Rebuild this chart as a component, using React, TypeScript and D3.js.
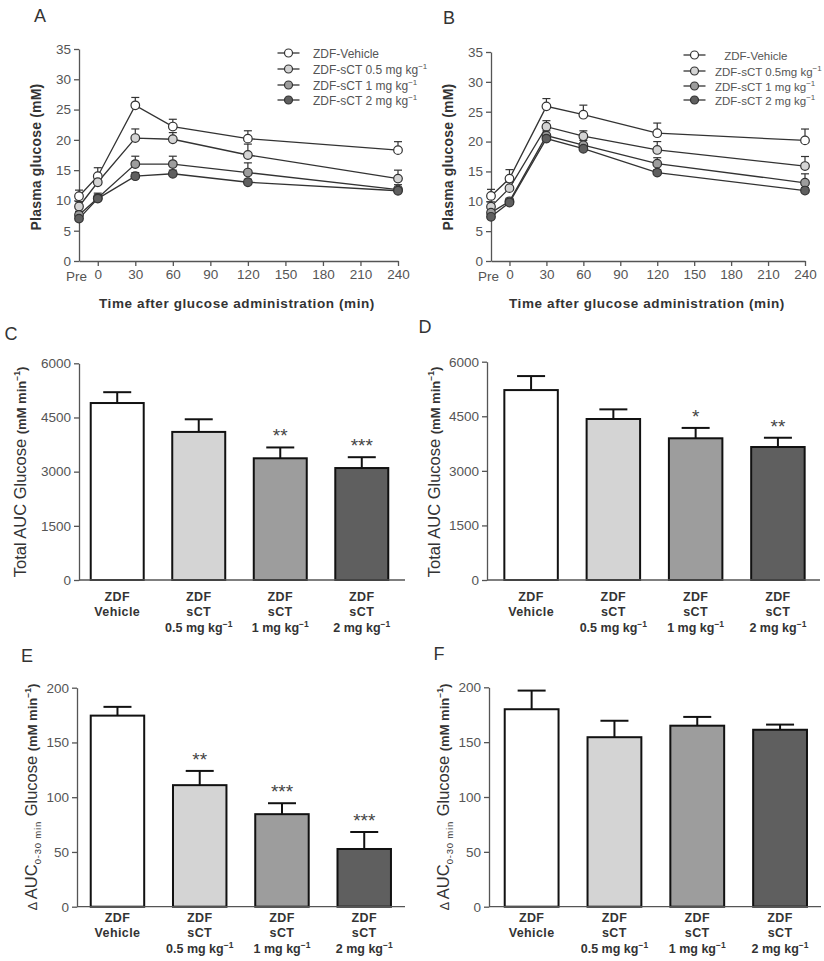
import { useEffect, useRef } from "react"
import * as d3 from "d3"

// time points in minutes, -15 stands for "Pre"
const timePoints = [-15, 0, 30, 60, 120, 240]
const timeTicks = [-15, 0, 30, 60, 90, 120, 150, 180, 210, 240]
const legendA = ["ZDF-Vehicle", "ZDF-sCT 0.5 mg kg", "ZDF-sCT 1 mg kg", "ZDF-sCT 2 mg kg"]
const legendB = [" ZDF-Vehicle", "ZDF-sCT 0.5mg kg", "ZDF-sCT 1 mg kg", "ZDF-sCT 2 mg kg"]
const groupFills = ["#ffffff", "#d4d4d4", "#9d9d9d", "#5f5f5f"]

const glucoseA = [
  [10.7, 14.0, 25.7, 22.2, 20.2, 18.3],
  [9.0, 13.0, 20.3, 20.1, 17.5, 13.6],
  [7.6, 10.4, 16.0, 16.0, 14.6, 11.8],
  [7.0, 10.3, 14.0, 14.4, 13.0, 11.6],
]
const semA = [
  [1.0, 1.4, 1.3, 1.2, 1.3, 1.4],
  [0.8, 1.0, 1.5, 1.1, 1.8, 1.4],
  [0.6, 0.8, 1.3, 1.3, 1.6, 0.8],
  [0.5, 0.6, 0.6, 0.6, 0.5, 0.5],
]
const glucoseB = [
  [10.9, 13.8, 25.9, 24.5, 21.4, 20.2],
  [9.1, 12.2, 22.5, 20.9, 18.6, 15.9],
  [8.1, 10.0, 21.0, 19.4, 16.3, 13.1],
  [7.4, 9.8, 20.5, 18.8, 14.8, 11.8],
]
const semB = [
  [1.1, 1.5, 1.3, 1.6, 1.7, 1.9],
  [0.8, 1.0, 1.0, 0.9, 1.4, 1.6],
  [0.6, 0.5, 0.8, 0.8, 1.0, 1.5],
  [0.5, 0.4, 0.5, 0.5, 0.5, 0.5],
]

const groups = ["Vehicle", "0.5 mg kg", "1 mg kg", "2 mg kg"]
const totalAucC = [4900, 4100, 3370, 3100]
const totalAucCErr = [300, 350, 300, 300]
const starsC = ["", "", "**", "***"]
const totalAucD = [5220, 4425, 3895, 3655]
const totalAucDErr = [385, 265, 285, 255]
const starsD = ["", "", "*", "**"]
const earlyAucE = [174.5, 111, 84.5, 52.7]
const earlyAucEErr = [8, 13, 10, 15.5]
const starsE = ["", "**", "***", "***"]
const earlyAucF = [180, 154.5, 165, 161.3]
const earlyAucFErr = [17, 15, 8, 4.7]
const starsF = ["", "", "", ""]

const FONT = "'Liberation Sans', Arial, sans-serif"
const AXIS = "#555"
const INK = "#333"

type Part = { t: string; size: number; weight?: string; dy?: number; ls?: number }

function rich(sel: d3.Selection<SVGTextElement, unknown, null, undefined>, parts: Part[]) {
  parts.forEach((p) => {
    const ts = sel.append("tspan").attr("font-size", p.size).text(p.t)
    if (p.weight) ts.attr("font-weight", p.weight)
    if (p.dy) ts.attr("dy", p.dy)
    if (p.ls) ts.attr("letter-spacing", p.ls)
  })
}

function styleAxis(g: d3.Selection<SVGGElement, unknown, null, undefined>, size: number) {
  g.selectAll("path").attr("stroke", AXIS).attr("stroke-width", 1.3)
  g.selectAll("line").attr("stroke", AXIS).attr("stroke-width", 1.3)
  g.selectAll("text").attr("fill", AXIS).attr("font-size", size).attr("font-family", FONT)
}

interface LineCfg {
  label: string
  labelPos: [number, number]
  xRange: [number, number]
  yRange: [number, number]
  values: number[][]
  errs: number[][]
  legend: string[]
  legendX: number
  legendTextX: number[]
  legendY: number[]
  legendSize: number
  yTitle: [number, number]
  xTitle: [number, number]
}

function drawLinePanel(svg: d3.Selection<SVGSVGElement, unknown, null, undefined>, c: LineCfg) {
  const g = svg.append("g")
  const x = d3.scaleLinear().domain([-15, 240]).range(c.xRange)
  const y = d3.scaleLinear().domain([0, 35]).range(c.yRange)

  const xAxis = g
    .append("g")
    .attr("transform", `translate(0,${c.yRange[0]})`)
    .call(
      d3
        .axisBottom(x)
        .tickValues(timeTicks)
        .tickSize(5)
        .tickSizeOuter(0)
        .tickFormat((d) => (d === -15 ? "Pre" : String(d))),
    )
  styleAxis(xAxis, 13.5)
  xAxis
    .selectAll<SVGGElement, number>(".tick")
    .filter((d) => d === -15)
    .each(function () {
      d3.select(this).select("line").remove()
      d3.select(this).select("text").attr("y", 10).attr("x", -3)
    })

  const yAxis = g
    .append("g")
    .attr("transform", `translate(${c.xRange[0]},0)`)
    .call(d3.axisLeft(y).tickValues(d3.range(0, 36, 5)).tickSize(5).tickSizeOuter(0))
  styleAxis(yAxis, 13.5)

  const line = d3
    .line<number>()
    .x((_, i) => x(timePoints[i]))
    .y((d) => y(d))

  c.values.forEach((vals, s) => {
    const sg = g.append("g")
    sg.append("path").attr("d", line(vals)).attr("fill", "none").attr("stroke", INK).attr("stroke-width", 1.3)
    vals.forEach((v, i) => {
      const px = x(timePoints[i])
      const top = y(v + c.errs[s][i])
      sg.append("line").attr("x1", px).attr("x2", px).attr("y1", y(v)).attr("y2", top).attr("stroke", INK).attr("stroke-width", 1.2)
      sg.append("line").attr("x1", px - 4).attr("x2", px + 4).attr("y1", top).attr("y2", top).attr("stroke", INK).attr("stroke-width", 1.2)
    })
  })
  c.values.forEach((vals, s) => {
    g.selectAll(null)
      .data(vals)
      .enter()
      .append("circle")
      .attr("cx", (_, i) => x(timePoints[i]))
      .attr("cy", (d) => y(d))
      .attr("r", 4.3)
      .attr("fill", groupFills[s])
      .attr("stroke", INK)
      .attr("stroke-width", 1.2)
  })

  // legend
  c.legend.forEach((name, s) => {
    const ly = c.legendY[s]
    g.append("line").attr("x1", c.legendX - 11).attr("x2", c.legendX + 11).attr("y1", ly).attr("y2", ly).attr("stroke", INK).attr("stroke-width", 1.3)
    g.append("circle").attr("cx", c.legendX).attr("cy", ly).attr("r", 4).attr("fill", groupFills[s]).attr("stroke", INK).attr("stroke-width", 1.2)
    const t = g
      .append("text")
      .attr("x", c.legendTextX[s])
      .attr("y", ly + 4.5)
      .attr("fill", "#555")
      .attr("font-family", FONT)
      .attr("xml:space", "preserve")
    const parts: Part[] = [{ t: name, size: c.legendSize }]
    if (s > 0) parts.push({ t: "−1", size: 8, dy: -5 })
    rich(t, parts)
  })

  g.append("text")
    .attr("transform", `translate(${c.yTitle[0]},${c.yTitle[1]}) rotate(-90)`)
    .attr("text-anchor", "middle")
    .attr("font-family", FONT)
    .attr("font-weight", "bold")
    .attr("font-size", 14)
    .attr("letter-spacing", 0.2)
    .attr("fill", INK)
    .text("Plasma glucose (mM)")

  g.append("text")
    .attr("x", c.xTitle[0])
    .attr("y", c.xTitle[1])
    .attr("text-anchor", "middle")
    .attr("font-family", FONT)
    .attr("font-weight", "bold")
    .attr("font-size", 13.5)
    .attr("letter-spacing", 0.6)
    .attr("fill", INK)
    .text("Time after glucose administration (min)")

  g.append("text")
    .attr("x", c.labelPos[0])
    .attr("y", c.labelPos[1])
    .attr("text-anchor", "middle")
    .attr("font-family", FONT)
    .attr("font-size", 18)
    .attr("fill", INK)
    .text(c.label)
}

interface BarCfg {
  label: string
  labelPos: [number, number]
  band: [number, number]
  axisX: [number, number]
  yRange: [number, number]
  yMax: number
  yStep: number
  values: number[]
  errs: number[]
  stars: string[]
  yTitle: [number, number]
  early: boolean
  catY: number
}

function drawBarPanel(svg: d3.Selection<SVGSVGElement, unknown, null, undefined>, c: BarCfg) {
  const g = svg.append("g")
  const x = d3.scaleBand<string>().domain(groups).range(c.band).paddingInner(0.35).paddingOuter(0.15)
  const y = d3.scaleLinear().domain([0, c.yMax]).range(c.yRange)
  const bw = x.bandwidth()

  // bars
  g.selectAll(null)
    .data(c.values)
    .enter()
    .append("rect")
    .attr("x", (_, i) => x(groups[i])!)
    .attr("y", (d) => y(d))
    .attr("width", bw)
    .attr("height", (d) => y(0) - y(d))
    .attr("fill", (_, i) => groupFills[i])
    .attr("stroke", "#111")
    .attr("stroke-width", 2)

  // error bars (upper only)
  c.values.forEach((v, i) => {
    const cx = x(groups[i])! + bw / 2
    const top = y(v + c.errs[i])
    g.append("line").attr("x1", cx).attr("x2", cx).attr("y1", y(v)).attr("y2", top).attr("stroke", "#111").attr("stroke-width", 2)
    g.append("line").attr("x1", cx - 14).attr("x2", cx + 14).attr("y1", top).attr("y2", top).attr("stroke", "#111").attr("stroke-width", 2)
    if (c.stars[i]) {
      g.append("text")
        .attr("x", cx)
        .attr("y", top - 5)
        .attr("text-anchor", "middle")
        .attr("font-family", FONT)
        .attr("font-size", 19)
        .attr("fill", "#444")
        .text(c.stars[i])
    }
  })

  // axes
  const yAxis = g
    .append("g")
    .attr("transform", `translate(${c.axisX[0]},0)`)
    .call(
      d3
        .axisLeft(y)
        .tickValues(d3.range(0, c.yMax + 1, c.yStep))
        .tickSize(5)
        .tickSizeOuter(0)
        .tickFormat(d3.format("d")),
    )
  styleAxis(yAxis, 13.5)
  g.append("line")
    .attr("x1", c.axisX[0])
    .attr("x2", c.axisX[1])
    .attr("y1", y(0))
    .attr("y2", y(0))
    .attr("stroke", AXIS)
    .attr("stroke-width", 1.3)

  // category labels
  groups.forEach((name, i) => {
    const cx = x(name)! + bw / 2
    const lines = i === 0 ? ["ZDF", "Vehicle"] : ["ZDF", "sCT"]
    lines.forEach((l, k) => {
      g.append("text")
        .attr("x", cx)
        .attr("y", c.catY + k * 15.3)
        .attr("text-anchor", "middle")
        .attr("font-family", FONT)
        .attr("font-weight", "bold")
        .attr("font-size", 12.5)
        .attr("letter-spacing", 0.4)
        .attr("fill", INK)
        .text(l)
    })
    if (i > 0) {
      const t = g
        .append("text")
        .attr("x", cx)
        .attr("y", c.catY + 30.6)
        .attr("text-anchor", "middle")
        .attr("font-family", FONT)
        .attr("font-weight", "bold")
        .attr("fill", INK)
      rich(t, [
        { t: name, size: 12.5 },
        { t: "−1", size: 8.5, dy: -5 },
      ])
    }
  })

  // y title
  const t = g
    .append("text")
    .attr("transform", `translate(${c.yTitle[0]},${c.yTitle[1]}) rotate(-90)`)
    .attr("text-anchor", "middle")
    .attr("font-family", FONT)
    .attr("fill", INK)
    .attr("xml:space", "preserve")
  const parts: Part[] = c.early
    ? [
        { t: "Δ ", size: 12.5 },
        { t: "AUC", size: 16.5 },
        { t: "0-30 min", size: 9.5, dy: 4, ls: 0.8 },
        { t: " Glucose ", size: 16.5, dy: -4 },
        { t: "(mM min", size: 13, weight: "bold" },
        { t: "−1", size: 8.5, dy: -6, weight: "bold" },
        { t: ")", size: 13, dy: 6, weight: "bold" },
      ]
    : [
        { t: "Total AUC Glucose ", size: 16.5 },
        { t: "(mM min", size: 13, weight: "bold" },
        { t: "−1", size: 8.5, dy: -6, weight: "bold" },
        { t: ")", size: 13, dy: 6, weight: "bold" },
      ]
  rich(t, parts)

  g.append("text")
    .attr("x", c.labelPos[0])
    .attr("y", c.labelPos[1])
    .attr("text-anchor", "middle")
    .attr("font-family", FONT)
    .attr("font-size", 18)
    .attr("fill", INK)
    .text(c.label)
}

export default function App() {
  const svgRef = useRef<SVGSVGElement>(null)

  useEffect(() => {
    if (!svgRef.current) return
    const svg = d3.select(svgRef.current)
    svg.selectAll("*").remove()

    drawLinePanel(svg, {
      label: "A",
      labelPos: [40, 22],
      xRange: [79, 398],
      yRange: [261, 49],
      values: glucoseA,
      errs: semA,
      legend: legendA,
      legendX: 288.5,
      legendTextX: [313, 313, 313, 313],
      legendY: [53, 69, 85, 100],
      legendSize: 12,
      yTitle: [41, 157],
      xTitle: [237, 308],
    })
    drawLinePanel(svg, {
      label: "B",
      labelPos: [449, 24],
      xRange: [491, 805],
      yRange: [261, 52],
      values: glucoseB,
      errs: semB,
      legend: legendB,
      legendX: 694.5,
      legendTextX: [721, 715, 715, 715],
      legendY: [55, 71, 86, 100],
      legendSize: 11.5,
      yTitle: [453, 157],
      xTitle: [647, 308],
    })
    drawBarPanel(svg, {
      label: "C",
      labelPos: [11, 340],
      band: [78.5, 400.5],
      axisX: [79, 405],
      yRange: [580, 363.3],
      yMax: 6000,
      yStep: 1500,
      values: totalAucC,
      errs: totalAucCErr,
      stars: starsC,
      yTitle: [26, 472],
      early: false,
      catY: 601,
    })
    drawBarPanel(svg, {
      label: "D",
      labelPos: [425, 333],
      band: [492, 817],
      axisX: [487, 820],
      yRange: [580, 361.7],
      yMax: 6000,
      yStep: 1500,
      values: totalAucD,
      errs: totalAucDErr,
      stars: starsD,
      yTitle: [440, 472],
      early: false,
      catY: 601,
    })
    drawBarPanel(svg, {
      label: "E",
      labelPos: [27, 662],
      band: [78.4, 403.3],
      axisX: [77, 405],
      yRange: [906.7, 687.7],
      yMax: 200,
      yStep: 50,
      values: earlyAucE,
      errs: earlyAucEErr,
      stars: starsE,
      yTitle: [37, 797],
      early: true,
      catY: 922,
    })
    drawBarPanel(svg, {
      label: "F",
      labelPos: [439, 660],
      band: [492.3, 819.4],
      axisX: [489, 821],
      yRange: [906.7, 687.3],
      yMax: 200,
      yStep: 50,
      values: earlyAucF,
      errs: earlyAucFErr,
      stars: starsF,
      yTitle: [449, 797],
      early: true,
      catY: 922,
    })
  }, [])

  return (
    <svg
      ref={svgRef}
      width={824}
      height={961}
      style={{ position: "absolute", left: 0, top: 0, background: "#fff" }}
    />
  )
}
